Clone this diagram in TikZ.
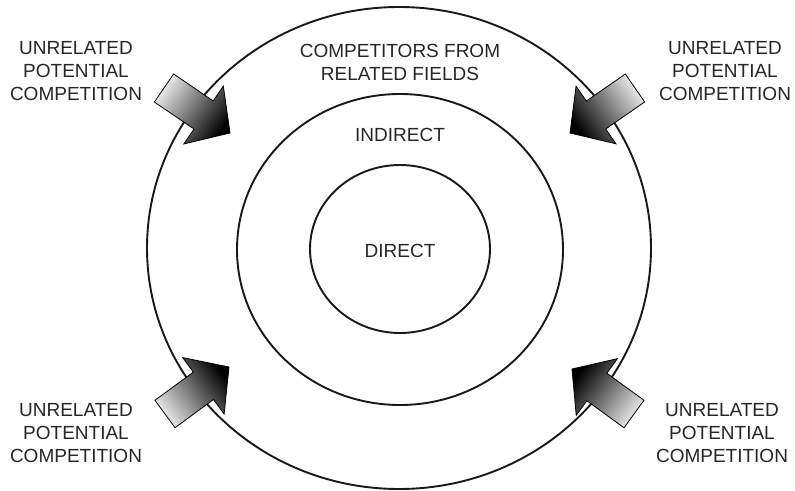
\documentclass[tikz,border=0pt]{standalone}
\usepackage{fontspec}
\setmainfont{Liberation Sans}
\usetikzlibrary{calc}

\tikzset{
  ring/.style={draw=black!90, line width=1.9pt},
  lbl/.style={align=center, font=\fontsize{19}{23}\selectfont, text=black!85, inner sep=0pt},
}

% block arrow from tail #1 to tip #2, shaded light at the tail and dark at the head
\newcommand{\blockarrow}[3]{%
  \path ($(#1)!0.60!(#2)$) coordinate (hb);
  \shade[draw=black, line width=0.8pt, line join=miter,
         left color=black!8, right color=black, shading angle=#3]
    ($(#1)!17pt!90:(#2)$) -- ($(hb)!17pt!90:(#2)$) -- ($(hb)!35pt!90:(#2)$)
    -- (#2) -- ($(hb)!35pt!-90:(#2)$) -- ($(hb)!17pt!-90:(#2)$)
    -- ($(#1)!17pt!-90:(#2)$) -- cycle;
}

\begin{document}
\begin{tikzpicture}[x=1pt, y=-1pt]
  \useasboundingbox (0,0) rectangle (795,490);

  % three nested rings
  \draw[ring] (399,248) ellipse [x radius=252, y radius=241];
  \draw[ring] (400,249.5) ellipse [x radius=163, y radius=155.5];
  \draw[ring] (400,249) ellipse [x radius=90, y radius=84];

  % ring captions
  \node[lbl] (rel) at (400,62) {COMPETITORS FROM\\RELATED FIELDS};
  \node[lbl] (ind) at (400,135) {INDIRECT};
  \node[lbl] (dir) at (400,251) {DIRECT};

  % outside labels
  \node[lbl] (utl) at (76,71) {UNRELATED\\POTENTIAL\\COMPETITION};
  \node[lbl] (utr) at (725,71) {UNRELATED\\POTENTIAL\\COMPETITION};
  \node[lbl] (ubl) at (76,433) {UNRELATED\\POTENTIAL\\COMPETITION};
  \node[lbl] (ubr) at (722,433) {UNRELATED\\POTENTIAL\\COMPETITION};

  % arrow anchor points
  \coordinate (tlT) at (164,88);  \coordinate (tlP) at (230,133);
  \coordinate (trT) at (635,88);  \coordinate (trP) at (570,133);
  \coordinate (blT) at (165,414); \coordinate (blP) at (229,367);
  \coordinate (brT) at (634,414); \coordinate (brP) at (572,369);

  \blockarrow{tlT}{tlP}{55}
  \blockarrow{trT}{trP}{-55}
  \blockarrow{blT}{blP}{126}
  \blockarrow{brT}{brP}{234}
\end{tikzpicture}
\end{document}
